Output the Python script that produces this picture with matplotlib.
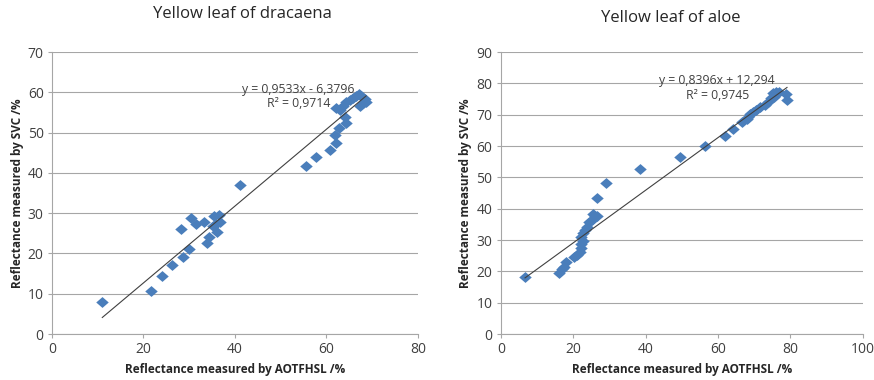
import numpy as np
import matplotlib
matplotlib.use('Agg')
import matplotlib.pyplot as plt

# dracaena: AOTFHSL vs SVC reflectance (%)
drac_x = [11.0, 21.6, 24.1, 26.3, 28.6, 28.2, 30.0, 30.3, 31.5, 33.2, 33.8, 34.4,
          35.5, 35.9, 36.0, 36.6, 36.7, 35.3, 41.2, 55.6, 57.8, 60.7, 62.2, 62.0,
          62.8, 64.4, 64.0, 62.2, 62.9, 63.6, 64.4, 65.1, 65.8, 66.5, 67.1, 67.6,
          67.3, 68.0, 68.7, 68.4]
drac_y = [8.0, 10.6, 14.5, 17.1, 19.0, 26.0, 21.0, 28.9, 27.3, 27.9, 22.7, 24.0,
          29.3, 27.3, 25.4, 29.6, 27.9, 26.7, 36.9, 41.6, 43.9, 45.7, 47.5, 49.5,
          51.1, 52.5, 53.8, 56.0, 55.7, 56.5, 57.7, 58.2, 58.6, 59.0, 59.6, 59.0,
          56.7, 57.3, 57.7, 58.3]

# aloe
aloe_x = [6.7, 16.1, 16.8, 17.5, 18.0, 20.3, 21.1, 21.9, 22.1, 22.3, 22.6, 22.3,
          22.8, 23.3, 23.9, 24.4, 25.1, 25.6, 26.0, 26.6, 26.7, 29.2, 38.4, 49.4,
          56.5, 61.9, 64.3, 66.7, 68.0, 68.3, 68.9, 69.7, 70.6, 71.5, 72.9, 73.8,
          74.7, 75.2, 76.1, 77.0, 78.9, 79.1, 75.6]
aloe_y = [18.3, 19.4, 20.7, 21.5, 23.1, 24.5, 25.2, 26.1, 27.4, 28.8, 29.8, 30.9,
          32.2, 33.2, 34.3, 35.9, 36.4, 38.2, 37.7, 37.7, 43.3, 48.2, 52.7, 56.5,
          59.9, 63.1, 65.4, 67.6, 68.6, 69.4, 70.3, 71.0, 71.6, 72.4, 73.2, 74.2,
          75.3, 76.9, 77.4, 77.1, 76.7, 74.6, 75.8]

plt.rcParams['font.family'] = ['Open Sans', 'DejaVu Sans']

fig = plt.figure(figsize=(8.74, 3.8), dpi=100)
ax1 = fig.add_axes([0.0595, 0.121, 0.4185, 0.742])
ax2 = fig.add_axes([0.573, 0.121, 0.414, 0.742])

blue = '#4a7ebb'
grid = '#a6a6a6'
# slightly wide diamond, like the spreadsheet marker
diamond = [(-1.15, 0), (0, 1), (1.15, 0), (0, -1), (-1.15, 0)]

def draw(ax, x, y, slope, icpt, eq, r2, xmax, ymax, txt_xy, title, title_xy):
    x = np.array(x)
    y = np.array(y)
    xs = np.array([x.min(), x.max()])
    ax.plot(x, y, linestyle='none', marker=diamond, ms=9, color=blue,
            mew=0, zorder=3)
    ax.plot(xs, slope * xs + icpt, color='#404040', lw=0.8, zorder=4)
    ax.set_xlim(0, xmax)
    ax.set_ylim(0, ymax)
    ax.set_xticks(np.arange(0, xmax + 1, 20))
    ax.set_yticks(np.arange(0, ymax + 1, 10))
    ax.yaxis.grid(True, color=grid, lw=0.8)
    ax.set_axisbelow(True)
    for s in ['top', 'right']:
        ax.spines[s].set_visible(False)
    for s in ['left', 'bottom']:
        ax.spines[s].set_color(grid)
    ax.tick_params(length=3, color=grid, labelsize=10, labelcolor='#404040', pad=3)
    ax.set_xlabel('Reflectance measured by AOTFHSL /%', fontsize=8.5,
                  fontweight='bold', color='#262626', labelpad=4)
    ax.set_ylabel('Reflectance measured by SVC /%', fontsize=8.5,
                  fontweight='bold', color='#262626', labelpad=3)
    tx, ty1, ty2 = txt_xy
    ax.text(tx, ty1, eq, ha='center', va='center', fontsize=8.8, color='#404040')
    ax.text(tx, ty2, r2, ha='center', va='center', fontsize=8.8, color='#404040')
    fig.text(title_xy[0], title_xy[1], title, ha='center', va='center',
             fontsize=12, color='#262626')

draw(ax1, drac_x, drac_y, 0.9533, -6.3796, 'y = 0,9533x - 6,3796', 'R² = 0,9714',
     80, 70, (53.9, 60.8, 57.3), 'Yellow leaf of dracaena', (242 / 874, 0.963))
draw(ax2, aloe_x, aloe_y, 0.8396, 12.294, 'y = 0,8396x + 12,294', 'R² = 0,9745',
     100, 90, (59.8, 81.0, 76.2), 'Yellow leaf of aloe', (671 / 874, 0.953))

fig.savefig('out.png', dpi=100)
